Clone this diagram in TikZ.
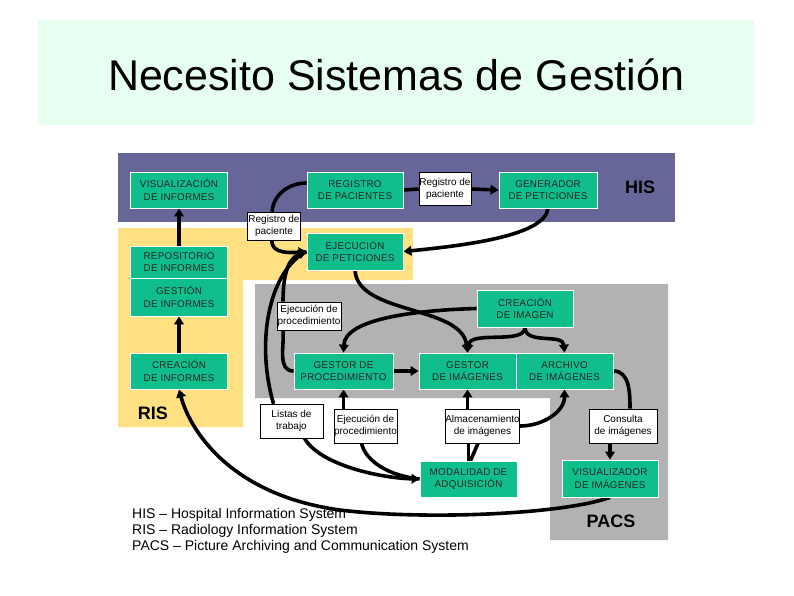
\documentclass[tikz,border=0pt]{standalone}
\usepackage{fontspec}
\setmainfont{Liberation Sans}
\usetikzlibrary{arrows.meta,calc}
\definecolor{titlebg}{RGB}{230,255,240}
\definecolor{hisblue}{RGB}{102,102,153}
\definecolor{risyellow}{RGB}{255,224,130}
\definecolor{pacsgray}{RGB}{178,178,178}
\definecolor{boxteal}{RGB}{16,190,140}
\pgfdeclarelayer{bg}
\pgfdeclarelayer{lines}
\pgfsetlayers{bg,lines,main}
\begin{document}
\begin{tikzpicture}[x=1pt,y=-1pt,
  tbox/.style={fill=boxteal, draw=white, line width=0.8pt, inner sep=0pt, align=center,
    font=\fontsize{9.8}{12.5}\selectfont\addfontfeature{LetterSpace=3}, text=black!85},
  lbox/.style={fill=white, draw=black, line width=0.6pt, inner sep=0pt, align=center,
    font=\fontsize{10}{12}\selectfont},
  conn/.style={line width=3.6pt, draw=black},
  arr/.style={conn, -{Triangle[length=8pt,width=9.5pt]}},
  sysname/.style={font=\fontsize{18}{20}\selectfont\bfseries, inner sep=0pt},
  legend/.style={font=\fontsize{14}{16}\selectfont, anchor=base west, inner sep=0pt}
]
\useasboundingbox (0,0) rectangle (794,595);
\begin{pgfonlayer}{bg}
  \fill[white] (0,0) rectangle (794,595);
  \fill[titlebg] (38,20) rectangle (754,125);
  \fill[hisblue] (118,153) rectangle (675,222);
  \fill[risyellow] (118,228) -- (413,228) -- (413,280) -- (243,280) -- (243,427) -- (118,427) -- cycle;
  \fill[pacsgray] (255,284) -- (668,284) -- (668,540) -- (550,540) -- (550,398) -- (255,398) -- cycle;
\end{pgfonlayer}

\node[anchor=base, inner sep=0pt, font=\fontsize{43}{50}\selectfont] (title) at (396,90) {Necesito Sistemas de Gestión};

% HIS
\node[tbox, minimum width=97pt, minimum height=36pt] (visinf) at (179,190) {VISUALIZACIÓN\\DE INFORMES};
\node[tbox, minimum width=96pt, minimum height=36pt] (regpac) at (355,190) {REGISTRO\\DE PACIENTES};
\node[lbox, minimum width=52pt, minimum height=33pt] (lab1) at (445,189) {Registro de\\paciente};
\node[tbox, minimum width=98pt, minimum height=36pt] (genpet) at (548,190) {GENERADOR\\DE PETICIONES};
\node[sysname] (his) at (640,187) {HIS};

% RIS
\node[lbox, minimum width=53pt, minimum height=28pt] (lab2) at (274,226) {Registro de\\paciente};
\node[tbox, minimum width=96pt, minimum height=37pt] (ejepet) at (355,251.5) {EJECUCIÓN\\DE PETICIONES};
\node[tbox, minimum width=97pt, minimum height=32pt] (repinf) at (179,262) {REPOSITORIO\\DE INFORMES};
\node[tbox, minimum width=97pt, minimum height=38pt] (gesinf) at (179,297) {GESTIÓN\\DE INFORMES};
\node[tbox, minimum width=97pt, minimum height=36pt] (creinf) at (179,371) {CREACIÓN\\DE INFORMES};
\node[sysname] (ris) at (153,413) {RIS};

% PACS
\node[lbox, minimum width=64pt, minimum height=28pt] (lab3) at (309,316) {Ejecución de\\procedimiento};
\node[tbox, minimum width=99pt, minimum height=36pt] (gesproc) at (343.5,371) {GESTOR DE\\PROCEDIMIENTO};
\node[tbox, minimum width=97pt, minimum height=36pt] (gesimg) at (467.5,371) {GESTOR\\DE IMÁGENES};
\node[tbox, minimum width=97pt, minimum height=36pt] (archimg) at (564.5,371) {ARCHIVO\\DE IMÁGENES};
\node[tbox, minimum width=96pt, minimum height=37pt] (creimg) at (525,308.5) {CREACIÓN\\DE IMAGEN};
\node[lbox, minimum width=63pt, minimum height=34pt] (listas) at (291.5,421) {Listas de\\trabajo};
\node[lbox, minimum width=63pt, minimum height=34pt] (lab4) at (365.5,426) {Ejecución de\\procedimiento};
\node[lbox, minimum width=69pt, minimum height=34pt] (almac) at (482.5,426) {Almacenamiento\\de imágenes};
\node[lbox, minimum width=68pt, minimum height=34pt] (consulta) at (623,426) {Consulta\\de imágenes};
\node[tbox, minimum width=97pt, minimum height=36pt] (modal) at (468.5,479) {MODALIDAD DE\\ADQUISICIÓN};
\node[tbox, minimum width=96pt, minimum height=37pt] (visimg) at (610,478.5) {VISUALIZADOR\\DE IMÁGENES};
\node[sysname] (pacs) at (611,521) {PACS};

% legend
\node[legend] (leg1) at (132,518) {HIS \textendash{} Hospital Information System};
\node[legend] (leg2) at (132,534) {RIS \textendash{} Radiology Information System};
\node[legend] (leg3) at (132,550) {PACS \textendash{} Picture Archiving and Communication System};

\begin{pgfonlayer}{lines}
  % RIS column
  \draw[arr] (repinf.north) -- (visinf.south);
  \draw[arr] (creinf.north) -- (gesinf.south);
  % HIS row
  \draw[conn] (regpac.east) -- (lab1.west);
  \draw[arr] (lab1.east) -- (genpet.west);
  \draw[conn] ([yshift=7pt]regpac.west) to[out=180,in=85] ([xshift=-2pt]lab2.north);
  \draw[arr] ([xshift=-2pt]lab2.south) to[out=-95,in=185] (ejepet.west);
  \draw[arr] (genpet.south) .. controls (545,235) and (470,245) .. (ejepet.east);
  % center
  \draw[arr] (ejepet.south) .. controls (358,315) and (462,305) .. (gesimg.north);
  \draw[arr] (creimg.west) .. controls (420,310) and (345,318) .. (gesproc.north);
  \draw[arr] (creimg.south) .. controls (525,345) and (470,330) .. (gesimg.north);
  \draw[arr] (creimg.south) .. controls (525,345) and (563,333) .. (archimg.north);
  \draw[arr] (gesproc.east) -- (gesimg.west);
  \draw[conn] (gesproc.west) to[out=180,in=-85] ([xshift=-26pt]lab3.south);
  \draw[arr] ([xshift=-26pt]lab3.north) to[out=90,in=200] (ejepet.west);
  \draw[conn] (ejepet.west) .. controls (270,270) and (255,340) .. ([xshift=-18pt]listas.north);
  \draw[arr] ([xshift=13pt]listas.south) .. controls (320,465) and (380,478) .. (modal.west);
  \draw[conn] (modal.west) .. controls (390,476) and (366,462) .. ([xshift=-4pt]lab4.south);
  \draw[arr] (lab4.north -| gesproc.south) -- (gesproc.south);
  \draw[conn] (modal.north) -- (modal.north |- almac.south);
  \draw[conn] ([xshift=2pt]modal.north) -- ([xshift=-4.5pt]almac.south);
  \draw[arr] (almac.north -| gesimg.south) -- (gesimg.south);
  \draw[arr] (almac.east) to[out=0,in=-90] (archimg.south);
  \draw[conn] (archimg.east) to[out=0,in=90] ([xshift=7pt]consulta.north);
  \draw[arr] (consulta.south -| visimg.north) -- (visimg.north);
  \draw[arr] (visimg.south) .. controls (560,515) and (420,520) .. (340,510)
        .. controls (230,495) and (190,430) .. (creinf.south);
\end{pgfonlayer}
\end{tikzpicture}
\end{document}
